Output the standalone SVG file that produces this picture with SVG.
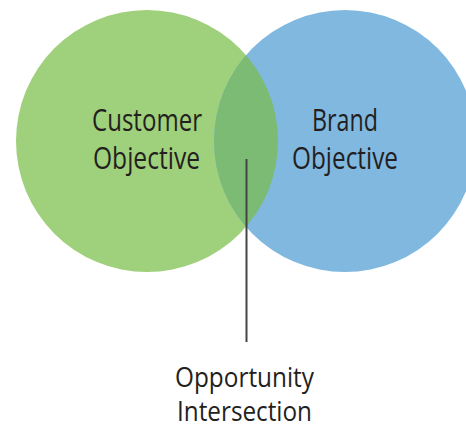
<svg xmlns="http://www.w3.org/2000/svg" width="466" height="427" viewBox="0 0 466 427">
  <style>
    .lbl { font-family: "Open Sans", "Liberation Sans", sans-serif; font-size: 31px; fill: #231f20; text-anchor: middle; }
    .small { font-size: 28px; }
  </style>
  <defs>
    <clipPath id="clipGreen">
      <circle cx="147" cy="141" r="131"/>
    </clipPath>
  </defs>
  <rect width="466" height="427" fill="#ffffff"/>
  <g id="customer">
    <circle cx="147" cy="141" r="131" fill="#9fd17c"/>
  </g>
  <g id="brand">
    <circle cx="345" cy="141" r="131" fill="#80b8e0"/>
  </g>
  <g id="intersection">
    <circle cx="345" cy="141" r="131" fill="#7bbb73" clip-path="url(#clipGreen)"/>
  </g>
  <g id="labels">
    <text class="lbl" x="147" y="131" textLength="110" lengthAdjust="spacingAndGlyphs">Customer</text>
    <text class="lbl" x="146.5" y="169" textLength="107" lengthAdjust="spacingAndGlyphs">Objective</text>
    <text class="lbl" x="345" y="131" textLength="66" lengthAdjust="spacingAndGlyphs">Brand</text>
    <text class="lbl" x="345" y="169" textLength="106" lengthAdjust="spacingAndGlyphs">Objective</text>
  </g>
  <g id="connectors">
    <line x1="246.5" y1="159" x2="246.5" y2="342" stroke="#444444" stroke-width="2"/>
  </g>
  <g id="opportunity">
    <text class="lbl small" x="244.5" y="387" textLength="139" lengthAdjust="spacingAndGlyphs">Opportunity</text>
    <text class="lbl small" x="244.5" y="421" textLength="135" lengthAdjust="spacingAndGlyphs">Intersection</text>
  </g>
</svg>
